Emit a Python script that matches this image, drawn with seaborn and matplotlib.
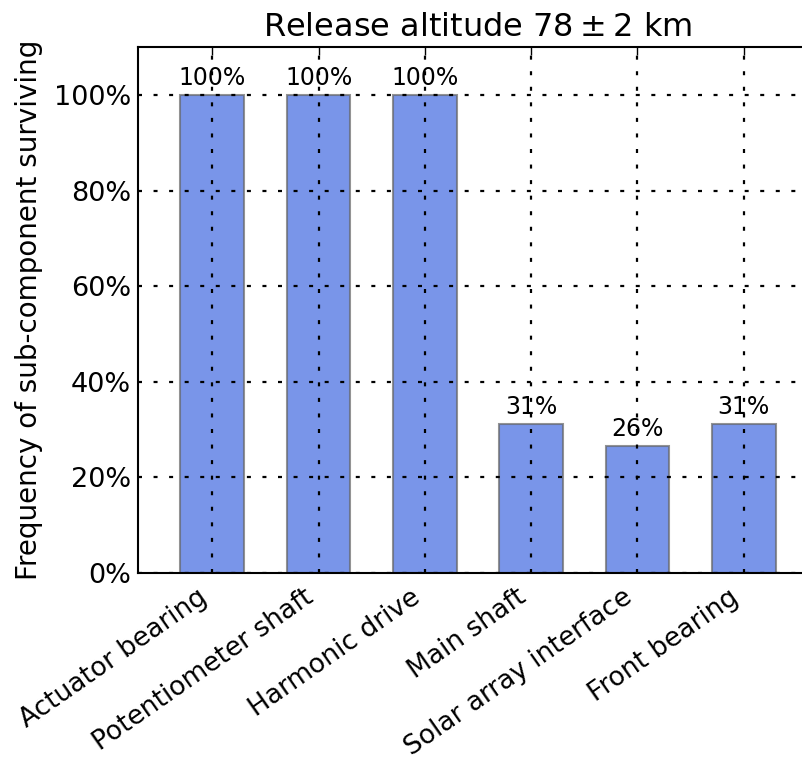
import matplotlib
matplotlib.use("Agg")
import matplotlib.pyplot as plt
import seaborn as sns
import pandas as pd

components = ["Actuator bearing", "Potentiometer shaft", "Harmonic drive",
              "Main shaft", "Solar array interface", "Front bearing"]
survival_pct = [100.0, 100.0, 100.0, 31.25, 26.67, 31.25]
ytick_values = [0, 20, 40, 60, 80, 100]
ytick_labels = ["0%", "20%", "40%", "60%", "80%", "100%"]

df = pd.DataFrame({"component": components, "pct": survival_pct})

sns.set_style("white")
plt.rcParams["font.family"] = ["DejaVu Sans"]
plt.rcParams["text.color"] = "black"
plt.rcParams["axes.labelcolor"] = "black"
plt.rcParams["xtick.color"] = "black"
plt.rcParams["ytick.color"] = "black"

fig = plt.figure(figsize=(8.02, 7.6), dpi=100)
ax = fig.add_axes([0.172, 0.246, 0.848, 0.692])

sns.barplot(data=df, x="component", y="pct", ax=ax, color="royalblue",
            alpha=0.7, width=0.6, edgecolor="0.4", linewidth=1.5,
            saturation=1)

for i, v in enumerate(survival_pct):
    ax.text(i, v + 1.0, f"{int(v)}%", ha="center", va="bottom", fontsize=17,
            color="black")

ax.set_xlim(-0.7, 5.7)
ax.set_ylim(0, 110)
ax.set_yticks(ytick_values)
ax.set_yticklabels(ytick_labels, fontsize=19.5)
ax.set_xticks(range(len(components)))
ax.set_xticklabels(components, rotation=35, ha="right", fontsize=19)
ax.set_xlabel("")
ax.set_ylabel("Frequency of sub-component surviving", fontsize=20, labelpad=8)
ax.set_title("Release altitude $78\\pm2$ km", fontsize=23, pad=8)

ax.grid(True, color="black", linestyle=(0, (1.8, 5.2)), linewidth=1.6)
ax.set_axisbelow(False)
ax.tick_params(axis="x", which="both", direction="in", top=True, bottom=False,
               length=6, width=1, pad=8)
ax.tick_params(axis="y", which="both", direction="in", left=False, length=6,
               pad=5)
for s in ax.spines.values():
    s.set_color("black")
    s.set_linewidth(1.5)

fig.savefig("out.png", dpi=100)
